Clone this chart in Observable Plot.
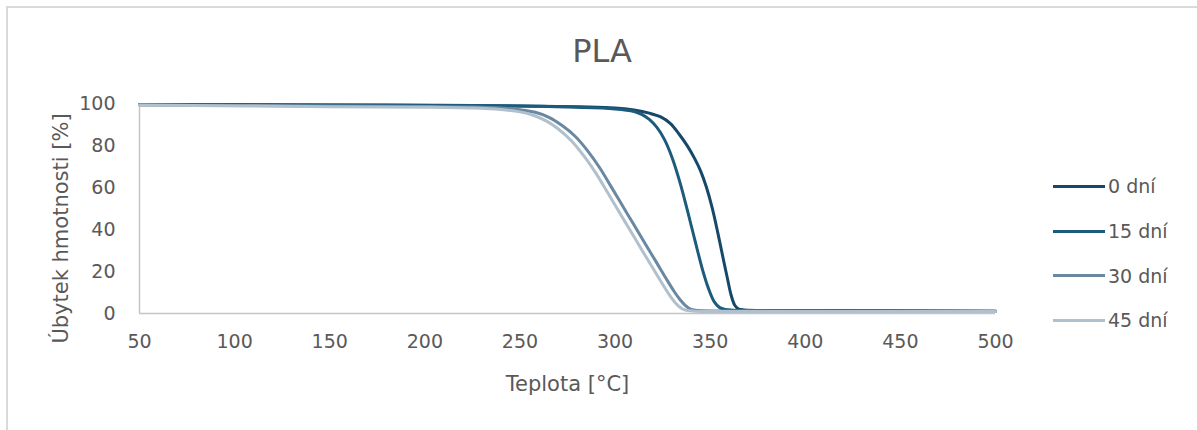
<!DOCTYPE html>
<html>
<head>
<meta charset="utf-8">
<script src="https://cdn.jsdelivr.net/npm/d3@7"></script>
<script src="https://cdn.jsdelivr.net/npm/@observablehq/plot@0.6"></script>
<style>
  html, body { margin: 0; padding: 0; background: #fff; overflow: hidden; width: 1197px; height: 430px; }
  body { font-family: "DejaVu Sans", sans-serif; color: #595959; position: relative; }
  #frame { position: absolute; left: 6px; top: 6px; width: 1300px; height: 600px; border: 2px solid #d9d9d9; box-sizing: border-box; }
  #title { position: absolute; left: 0; top: 32px; width: 1204px; text-align: center; font-size: 32px; line-height: 38px; color: #595959; }
  #chart { position: absolute; left: 8px; top: 70px; }
  #legend { position: absolute; left: 1053px; top: 164px; }
  .item { display: flex; align-items: center; height: 44.7px; font-size: 19px; color: #595959; }
  .sw { display: inline-block; width: 52px; height: 3px; margin-right: 3px; }
  g[aria-label="x-axis label"] text, g[aria-label="y-axis label"] text { font-size: 21px; }
</style>
</head>
<body>
<div id="frame"></div>
<div id="title">PLA</div>
<div id="chart"></div>
<div id="legend"></div>
<script>
const seriesNames = ["0 dní", "15 dní", "30 dní", "45 dní"];
const seriesColors = ["#17486a", "#1c5b7c", "#6a88a1", "#b1c0cd"];
const xTicks = [50, 100, 150, 200, 250, 300, 350, 400, 450, 500];
const yTicks = [0, 20, 40, 60, 80, 100];

const temp0 = [50, 150, 250, 300, 310, 318, 324, 329, 334, 338, 342, 345, 348, 351, 354, 357, 359, 361, 363, 365, 368, 400, 500];
const mass0 = [99.5, 99.3, 98.8, 97.9, 96.9, 95.4, 93.6, 90.5, 85, 79.8, 73.5, 67.8, 60.2, 50.5, 38.5, 25.5, 17, 8.8, 3.8, 2.1, 1.7, 1.4, 1.1];

const temp15 = [50, 150, 250, 300, 310, 314, 318, 322, 326, 330, 334, 338, 342, 346, 349, 352, 355, 358, 362, 400, 500];
const mass15 = [99.5, 99.3, 98.8, 97.4, 96.2, 94.8, 92.4, 88.6, 82.8, 74.2, 62.8, 49.2, 34.8, 20.8, 12.2, 5.8, 2.8, 1.9, 1.6, 1.4, 1.1];

const temp30 = [50, 150, 200, 225, 240, 250, 258, 265, 272, 279, 286, 292, 298, 304, 310, 316, 322, 327, 331, 334, 337, 340, 344, 360, 500];
const mass30 = [99.3, 98.8, 98.6, 98.3, 97.8, 97.0, 95.8, 93.5, 89.6, 84.4, 77.0, 69.3, 60.3, 51.2, 42.1, 33, 24, 16.4, 10.6, 6.8, 3.8, 2.0, 1.4, 1.2, 1.0];

const temp45 = [50, 150, 200, 225, 240, 250, 257, 264, 270, 277, 284, 290, 296, 302, 308, 314, 320, 325, 329, 332, 335, 338, 342, 360, 500];
const mass45 = [99.3, 98.5, 98.2, 97.8, 97.1, 96.0, 94.4, 91.6, 88.0, 82.3, 74.6, 66.7, 57.7, 48.6, 39.5, 30.4, 21.4, 13.9, 8.3, 4.8, 2.4, 1.4, 1.1, 1.0, 0.9];

const temps = [temp0, temp15, temp30, temp45];
const masses = [mass0, mass15, mass30, mass45];
const data = seriesNames.flatMap((s, i) => temps[i].map((t, j) => ({series: s, t, v: masses[i][j]})));

const chart = Plot.plot({
  width: 1030,
  height: 360,
  marginTop: 33,
  marginBottom: 117,
  marginLeft: 131,
  marginRight: 43,
  style: {fontFamily: "DejaVu Sans", fontSize: "19px", color: "#595959", background: "transparent"},
  x: {domain: [50, 500]},
  y: {domain: [0, 100]},
  color: {domain: seriesNames, range: seriesColors},
  marks: [
    Plot.ruleX([50], {stroke: "#c4c4c4", strokeWidth: 1.5}),
    Plot.ruleY([0], {stroke: "#c4c4c4", strokeWidth: 1.5}),
    Plot.axisX({ticks: xTicks, tickSize: 0, tickPadding: 21, fontSize: 19, label: "Teplota [°C]", labelAnchor: "center", labelOffset: 77, labelArrow: "none"}),
    Plot.axisY({ticks: yTicks, tickSize: 0, tickPadding: 24, fontSize: 19, label: "Úbytek hmotnosti [%]", labelAnchor: "center", labelOffset: 86, labelArrow: "none"}),
    Plot.line(data, {x: "t", y: "v", z: "series", stroke: "series", strokeWidth: 3, curve: "catmull-rom"})
  ]
});
document.getElementById("chart").appendChild(chart);

// shift the y-axis title down a little, as in the reference
const yl = chart.querySelector('g[aria-label="y-axis label"]');
if (yl) {
  const tr = yl.getAttribute("transform") || "";
  yl.setAttribute("transform", (tr + " translate(0,20)").trim());
}

const legend = document.getElementById("legend");
seriesNames.forEach((s, i) => {
  const it = document.createElement("div");
  it.className = "item";
  const sw = document.createElement("span");
  sw.className = "sw";
  sw.style.background = seriesColors[i];
  const tx = document.createElement("span");
  tx.textContent = s;
  it.appendChild(sw);
  it.appendChild(tx);
  legend.appendChild(it);
});
</script>
</body>
</html>
